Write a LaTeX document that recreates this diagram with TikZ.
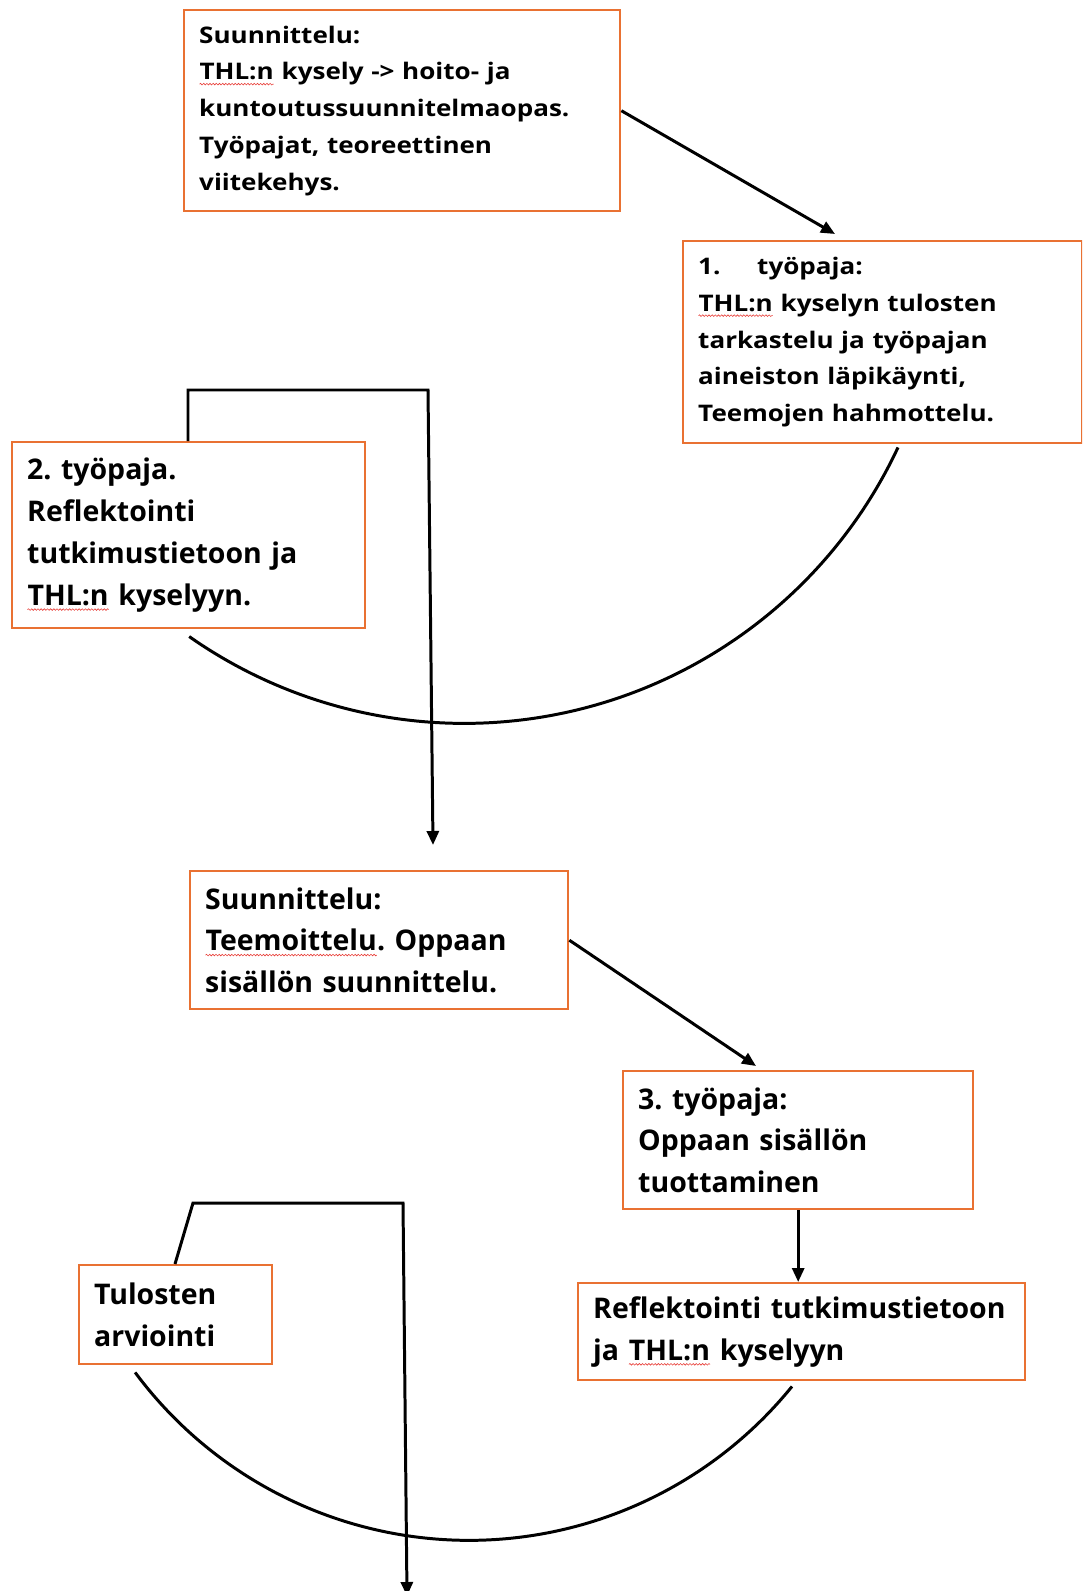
\documentclass[tikz,border=0pt]{standalone}
\usepackage{fontspec}
\setmainfont{Open Sans}
\newfontfamily\widesans{Open Sans}[FakeStretch=1.14]
\usetikzlibrary{arrows.meta,calc,decorations.pathmorphing}

\definecolor{boxorange}{HTML}{E97132}
\definecolor{spellred}{HTML}{E8403A}

% red wavy spell-check mark under a word
\newcommand\spellmark[1]{\tikz[baseline=(sw.base)]{%
  \node[draw=none,fill=none,inner sep=0pt,outer sep=0pt,text width={},align=none,
    minimum width=0pt,minimum height=0pt,anchor=base] (sw) at (0,0) {#1};%
  \draw[spellred,line width=0.35pt,decorate,decoration={snake,amplitude=0.45pt,segment length=1.8pt}]
    ([yshift=-2.4pt]sw.base west) -- ([yshift=-2.4pt]sw.base east);}}

\tikzset{
  box/.style={draw=boxorange, line width=1.4pt, anchor=north west, align=left,
    inner xsep=0.3cm, inner ysep=0pt},
  smalltext/.style={font=\widesans\bfseries\frenchspacing\fontsize{13}{20.9}\selectfont},
  bigtext/.style={font=\bfseries\frenchspacing\fontsize{16.2}{23.8}\selectfont},
  conn/.style={line width=1.7pt, -{Triangle[length=0.28cm,width=0.24cm]}},
  curve/.style={line width=1.7pt}
}

\begin{document}
\begin{tikzpicture}[x=0.02cm,y=-0.02cm]
  \useasboundingbox (0,0) rectangle (1082,1591);
  \clip (0,0) rectangle (1082,1591);

  % first round
  \node[box,smalltext,text width=8.12cm,minimum height=4.02cm] (plan1) at (183,9)
    {Suunnittelu:\\\spellmark{THL:n} kysely -> hoito- ja\\kuntoutussuunnitelmaopas.\\Työpajat, teoreettinen\\viitekehys.};
  \node[box,smalltext,text width=7.38cm,minimum height=4.04cm] (ws1) at (682,240)
    {\makebox[1.18cm][l]{1.}työpaja:\\\spellmark{THL:n} kyselyn tulosten\\tarkastelu ja työpajan\\aineiston läpikäynti,\\Teemojen hahmottelu.};
  \node[box,bigtext,text width=6.46cm,minimum height=3.72cm] (ws2) at (11,441)
    {2. työpaja.\\Reflektointi\\tutkimustietoon ja\\\spellmark{THL:n} kyselyyn.};

  % second round
  \node[box,bigtext,text width=6.96cm,minimum height=2.76cm] (plan2) at (189,870)
    {Suunnittelu:\\\spellmark{Teemoittelu}. Oppaan\\sisällön suunnittelu.};
  \node[box,bigtext,text width=6.4cm,minimum height=2.76cm] (ws3) at (622,1070)
    {3. työpaja:\\Oppaan sisällön\\tuottaminen};
  \node[box,bigtext,text width=8.34cm,minimum height=1.94cm] (refl) at (577,1282)
    {\mbox{Reflektointi tutkimustietoon}\\ja \spellmark{THL:n} kyselyyn};
  \node[box,bigtext,text width=3.26cm,minimum height=1.98cm] (eval) at (78,1264)
    {Tulosten\\arviointi};

  % connectors, first round
  \draw[conn] (plan1.east) -- ($(ws1.north west)+(153,-6)$);
  \draw[curve] ($(ws1.south west)+(216,3)$) arc[start angle=-25.07, end angle=-125.05, radius=9.58cm];
  \coordinate (k1) at (428,390);
  \draw[conn] ($(ws2.north west)+(177,0)$) |- (k1) -- ($(plan2.north west)+(244,-25)$);

  % connectors, second round
  \draw[conn] (plan2.east) -- ($(ws3.north west)+(134,-4)$);
  \draw[conn] (ws3.south) -- (ws3.south |- refl.north);
  \draw[curve] ($(refl.south west)+(215,5)$) arc[start angle=-39.05, end angle=-143.4, radius=8.32cm];
  \coordinate (k2) at (193,1203);
  \coordinate (k3) at (403,1203);
  \draw[conn] ($(eval.north west)+(97,0)$) -- (k2) -- (k3) -- (407,1596);
\end{tikzpicture}
\end{document}
